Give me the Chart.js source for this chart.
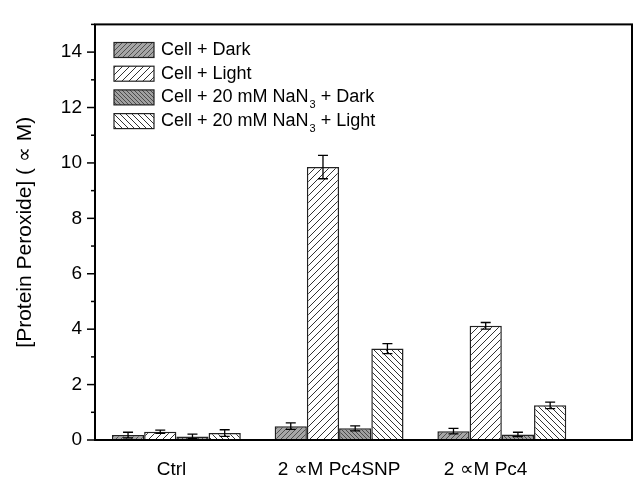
<!DOCTYPE html>
<html>
<head>
<meta charset="utf-8">
<script src="https://cdn.jsdelivr.net/npm/chart.js@4"></script>
<style>
  body { margin: 0; background: #fff; }
  #wrap { width: 644px; height: 496px; }
</style>
</head>
<body>
<div id="wrap"><canvas id="chart" width="644" height="496"></canvas></div>
<script>
// chart data
const categories = ["Ctrl", "2 \u221DM Pc4SNP", "2 \u221DM Pc4"];
const seriesNames = ["Cell + Dark", "Cell + Light", "Cell + 20 mM NaN_3 + Dark", "Cell + 20 mM NaN_3 + Light"];
const cellDark = [0.18, 0.5, 0.32];
const cellLight = [0.3, 9.85, 4.12];
const nanDark = [0.13, 0.42, 0.2];
const nanLight = [0.25, 3.3, 1.25];
const cellDarkErr = [0.1, 0.12, 0.1];
const cellLightErr = [0.06, 0.42, 0.12];
const nanDarkErr = [0.08, 0.09, 0.08];
const nanLightErr = [0.12, 0.18, 0.12];
const yTicks = [0, 2, 4, 6, 8, 10, 12, 14];

const FONT = "'Liberation Sans', Arial, sans-serif";

// diagonal hatch pattern, dir 1 = "/", -1 = "\"
function hatch(bg, fg, s, dir) {
  const c = document.createElement("canvas");
  c.width = c.height = s;
  const g = c.getContext("2d");
  g.fillStyle = bg;
  g.fillRect(0, 0, s, s);
  g.strokeStyle = fg;
  g.lineWidth = 1;
  g.beginPath();
  if (dir > 0) {
    g.moveTo(0, s); g.lineTo(s, 0);
    g.moveTo(-1, 1); g.lineTo(1, -1);
    g.moveTo(s - 1, s + 1); g.lineTo(s + 1, s - 1);
  } else {
    g.moveTo(0, 0); g.lineTo(s, s);
    g.moveTo(-1, s - 1); g.lineTo(1, s + 1);
    g.moveTo(s - 1, -1); g.lineTo(s + 1, 1);
  }
  g.stroke();
  return g.createPattern(c, "repeat");
}

const ctx = document.getElementById("chart").getContext("2d");
const fills = [
  hatch("#a6a6a6", "#505050", 5, 1),
  hatch("#ffffff", "#333333", 7, 1),
  hatch("#a0a0a0", "#4a4a4a", 4, -1),
  hatch("#ffffff", "#333333", 6, -1)
];
const allValues = [cellDark, cellLight, nanDark, nanLight];
const allErrors = [cellDarkErr, cellLightErr, nanDarkErr, nanLightErr];

const datasets = allValues.map((vals, i) => ({
  label: seriesNames[i],
  data: vals.map((v, j) => ({ x: j, y: v })),
  errors: allErrors[i],
  backgroundColor: fills[i],
  borderColor: "#222",
  borderWidth: 1.5,
  categoryPercentage: 0.88,
  barPercentage: 1.0
}));

// small nudges for the category labels, as in the original figure
const labelShift = [-0.03, 0, -0.1];

// frame, y tick marks, error bars, legend
const extras = {
  id: "extras",
  afterDatasetsDraw(chart) {
    const c = chart.ctx;
    const a = chart.chartArea;
    const y = chart.scales.y;
    c.save();
    c.strokeStyle = "#000";
    c.lineWidth = 1.3;
    chart.data.datasets.forEach((ds, i) => {
      const meta = chart.getDatasetMeta(i);
      meta.data.forEach((bar, j) => {
        const v = ds.data[j].y, e = ds.errors[j];
        const top = y.getPixelForValue(v + e), bot = y.getPixelForValue(v - e);
        c.beginPath();
        c.moveTo(bar.x, top); c.lineTo(bar.x, bot);
        c.moveTo(bar.x - 5, top); c.lineTo(bar.x + 5, top);
        c.moveTo(bar.x - 5, bot); c.lineTo(bar.x + 5, bot);
        c.stroke();
      });
    });

    // frame
    c.lineWidth = 2;
    c.strokeRect(a.left, a.top, a.right - a.left, a.bottom - a.top);

    // y ticks (major even, minor odd)
    c.lineWidth = 1.5;
    for (let t = 0; t <= 15; t++) {
      const py = y.getPixelForValue(t);
      const len = t % 2 === 0 ? 8 : 4;
      c.beginPath();
      c.moveTo(a.left - len, py); c.lineTo(a.left, py);
      c.stroke();
    }

    // legend
    c.textBaseline = "middle";
    chart.data.datasets.forEach((ds, i) => {
      const cy = 50 + i * 23.7;
      c.fillStyle = ds.backgroundColor;
      c.fillRect(114, cy - 7.5, 40, 15);
      c.strokeStyle = "#222";
      c.lineWidth = 1.2;
      c.strokeRect(114, cy - 7.5, 40, 15);
      c.fillStyle = "#000";
      const parts = ds.label.split("_3");
      let x = 161;
      c.font = "18px " + FONT;
      c.fillText(parts[0], x, cy);
      if (parts.length > 1) {
        x += c.measureText(parts[0]).width;
        c.font = "11px " + FONT;
        c.fillText("3", x + 1, cy + 8);
        x += c.measureText("3").width + 1;
        c.font = "18px " + FONT;
        c.fillText(parts[1], x, cy);
      }
    });
    c.restore();
  }
};

new Chart(ctx, {
  type: "bar",
  data: { datasets: datasets },
  options: {
    responsive: false,
    animation: false,
    layout: { padding: { top: 22, right: 12, left: 0, bottom: 0 } },
    plugins: { legend: { display: false }, tooltip: { enabled: false } },
    scales: {
      x: {
        type: "linear",
        offset: false,
        min: -0.5,
        max: 2.8,
        grid: { display: false, drawTicks: false },
        border: { display: false },
        afterFit: (s) => { s.height = 56; },
        afterBuildTicks: (s) => { s.ticks = categories.map((_, i) => ({ value: i + labelShift[i], label: categories[i] })); },
        ticks: {
          autoSkip: false,
          maxRotation: 0,
          padding: 18,
          color: "#000",
          font: { family: FONT, size: 19 },
          callback: (v, i) => categories[i]
        }
      },
      y: {
        min: 0,
        max: 15,
        grid: { display: false, drawTicks: false },
        border: { display: false },
        afterFit: (s) => { s.width = 95; },
        afterBuildTicks: (s) => { s.ticks = yTicks.map((v) => ({ value: v })); },
        ticks: {
          padding: 13,
          color: "#000",
          font: { family: FONT, size: 19 }
        },
        title: {
          display: true,
          text: "[Protein Peroxide] ( \u221D M)",
          color: "#000",
          font: { family: FONT, size: 21 },
          padding: { top: 13, bottom: 0 }
        }
      }
    }
  },
  plugins: [extras]
});
</script>
</body>
</html>
